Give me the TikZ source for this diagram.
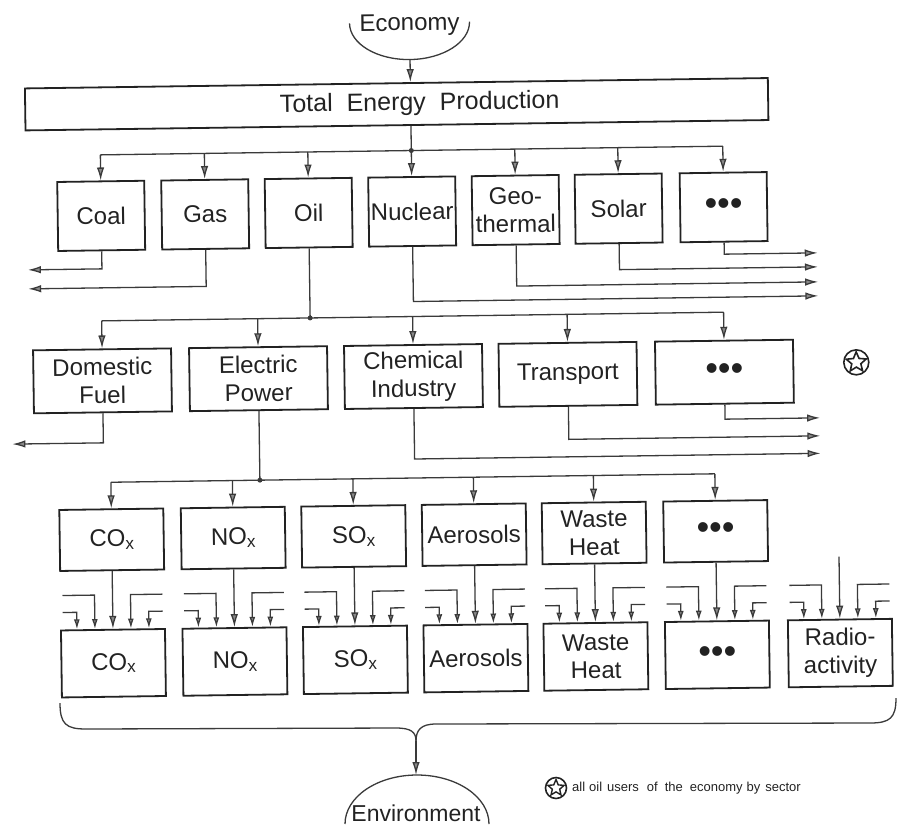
\documentclass[tikz,border=0pt]{standalone}
\usepackage{fontspec}
\setmainfont{Liberation Sans}
\usetikzlibrary{arrows.meta,shapes.geometric}

\definecolor{ink}{HTML}{222222}
\definecolor{linecol}{HTML}{3A3A3A}
\definecolor{tipcol}{HTML}{8A8A8A}

% lowered index letter, as in CO_x
\newcommand\lowidx[1]{\raisebox{-3pt}{\fontsize{17}{17}\selectfont #1}}

\begin{document}
\begin{tikzpicture}[x=1pt,y=-1pt,
  every node/.style={text=ink},
  lbl/.style={font=\fontsize{24}{28}\selectfont, align=center},
  box/.style={lbl, draw=ink, line width=1.8pt, inner sep=0pt},
  srcbox/.style={box, minimum width=87pt, minimum height=69pt},
  userbox/.style={box, minimum width=138pt, minimum height=63pt},
  emitbox/.style={box, minimum width=104pt, minimum height=61pt},
  loadbox/.style={box, minimum width=104pt, minimum height=67pt},
  dotsfont/.style={font=\fontsize{36}{36}\selectfont},
  wire/.style={draw=linecol, line width=1.3pt},
  flow/.style={wire, -{Latex[length=13pt,width=7.5pt,fill=tipcol]}},
  feed/.style={wire, -{Latex[length=10pt,width=6pt,fill=tipcol]}},
  junction/.style={circle, fill=linecol, inner sep=0pt, minimum size=5pt},
  ring/.style={circle, draw=ink, line width=1.6pt, inner sep=0pt},
  starmark/.style={star, star points=5, star point ratio=2.2, draw=ink, line width=1.6pt, inner sep=0pt}
]
\useasboundingbox (0,0) rectangle (904,831);

\begin{scope}[transform canvas={rotate around={0.8:(450,415)}}]
% ---------------- economy and total production
\node[lbl, anchor=base] (econ) at (415,30) {Economy};
\draw[wire] (355,22) arc[start angle=180, end angle=360, x radius=60pt, y radius=37pt];
\coordinate (econ-out) at (415,59);

\node[box, minimum width=743pt, minimum height=42pt] (tep) at (401,103.5) {};
\node[lbl, font=\fontsize{25}{28}\selectfont] (tep-text) at (424,103.5)
  {Total\hspace{14pt}Energy\hspace{14pt}Production};
\draw[flow] (econ-out) -- (econ-out |- tep.north);

% ---------------- energy sources
\node[srcbox] (coal)    at (104,211)   {Coal};
\node[srcbox] (gas)     at (208,211)   {Gas};
\node[srcbox] (oil)     at (311.5,211) {Oil};
\node[srcbox] (nuclear) at (415,211)   {Nuclear};
\node[srcbox] (geo)     at (518.5,211) {Geo-\\thermal};
\node[srcbox] (solar)   at (621.5,211) {Solar};
\node[srcbox, dotsfont] (dots1) at (726.5,211) {•••};

\coordinate (bus1) at (415,150);
\draw[wire] (bus1 |- tep.south) -- (bus1);
\draw[wire] (coal.north |- bus1) -- (dots1.north |- bus1);
\node[junction] at (bus1) {};
\foreach \n in {coal,gas,oil,nuclear,geo,solar,dots1}
  \draw[flow] (\n.north |- bus1) -- (\n.north);

\coordinate (w1) at (30,264);
\coordinate (w2) at (30,283);
\coordinate (e1) at (820,258);
\coordinate (e2) at (820,272);
\coordinate (e3) at (820,287);
\coordinate (e4) at (820,301);
\draw[flow] (coal.south) |- (w1);
\draw[flow] (gas.south) |- (w2);
\draw[flow] (dots1.south) |- (e1);
\draw[flow] (solar.south) |- (e2);
\draw[flow] (geo.south) |- (e3);
\draw[flow] (nuclear.south) |- (e4);

% ---------------- oil users
\node[userbox] (domestic) at (103,376)   {Domestic\\Fuel};
\node[userbox] (electric) at (259,376)   {Electric\\Power};
\node[userbox] (chemical) at (414,376)   {Chemical\\Industry};
\node[userbox] (transport) at (568.5,376) {Transport};
\node[userbox, dotsfont] (dots2) at (725,376) {•••};

\node[ring, minimum size=25pt] (allusers) at (857,368) {};
\node[starmark, minimum size=21pt] at (allusers) {};

\coordinate (bus2) at (311.5,316);
\draw[wire] (oil.south) -- (bus2);
\draw[wire] (domestic.north |- bus2) -- (dots2.north |- bus2);
\node[junction] at (bus2) {};
\foreach \n in {domestic,electric,chemical,transport,dots2}
  \draw[flow] (\n.north |- bus2) -- (\n.north);

\coordinate (w3) at (12,438);
\coordinate (e5) at (820,423);
\coordinate (e6) at (820,441);
\coordinate (e7) at (820,458.5);
\draw[flow] (domestic.south) |- (w3);
\draw[flow] (dots2.south) |- (e5);
\draw[flow] (transport.south) |- (e6);
\draw[flow] (chemical.south) |- (e7);

% ---------------- emissions of electric power
\node[emitbox] (co)   at (110,535)   {CO\lowidx{x}};
\node[emitbox] (no)   at (231.5,535) {NO\lowidx{x}};
\node[emitbox] (so)   at (352,535)   {SO\lowidx{x}};
\node[emitbox] (aer)  at (472.5,535) {Aerosols};
\node[emitbox] (heat) at (592.5,535) {Waste\\Heat};
\node[emitbox, dotsfont] (dots3) at (714,535) {•••};

\coordinate (bus3) at (259,477.5);
\draw[wire] (electric.south) -- (bus3);
\draw[wire] (co.north |- bus3) -- (dots3.north |- bus3);
\node[junction] at (bus3) {};
\foreach \n in {co,no,so,aer,heat,dots3}
  \draw[flow] (\n.north |- bus3) -- (\n.north);

% ---------------- total loads
\node[loadbox] (co-all)   at (110,658.5)   {CO\lowidx{x}};
\node[loadbox] (no-all)   at (231.5,658.5) {NO\lowidx{x}};
\node[loadbox] (so-all)   at (352,658.5)   {SO\lowidx{x}};
\node[loadbox] (aer-all)  at (472.5,658.5) {Aerosols};
\node[loadbox] (heat-all) at (592.5,658.5) {Waste\\Heat};
\node[loadbox, dotsfont] (dots4) at (714,658.5) {•••};
\node[loadbox] (radio)    at (837,658.5)   {Radio-\\activity};

\foreach \a/\b in {co/co-all,no/no-all,so/so-all,aer/aer-all,heat/heat-all,dots3/dots4}
  \draw[flow] (\a.south) -- (\b.north);
\coordinate (radio-in) at (837,562);
\draw[flow] (radio-in) -- (radio.north);

% contributions from the other sectors
\foreach \b in {co-all,no-all,so-all,aer-all,heat-all,dots4,radio} {
  \draw[feed] ([xshift=-50pt,yshift=17pt]\b.north) -| ([xshift=-36pt]\b.north);
  \draw[feed] ([xshift=-50pt,yshift=34pt]\b.north) -| ([xshift=-18pt]\b.north);
  \draw[feed] ([xshift=50pt,yshift=34pt]\b.north) -| ([xshift=18pt]\b.north);
  \draw[feed] ([xshift=50pt,yshift=17pt]\b.north) -| ([xshift=36pt]\b.north);
}
\end{scope}

% ---------------- collecting brace and environment
\coordinate (brace-tip) at (416,741);
\draw[wire] (60,703) .. controls (60,724) and (66,729) .. (86,729)
  -- (396,728) .. controls (411,728) and (416,732) .. (brace-tip);
\draw[wire] (brace-tip) .. controls (416,730) and (421,724) .. (436,724)
  -- (870,723) .. controls (890,723) and (896,718) .. (896,698);

\node[lbl, font=\fontsize{23}{26}\selectfont, anchor=base] (env) at (416,821) {Environment};
\draw[wire] (345,824) arc[start angle=180, end angle=0, x radius=72pt, y radius=49pt];
\coordinate (env-in) at (416,775);
\draw[flow] (brace-tip) -- (env-in);

% ---------------- key
\node[ring, minimum size=21pt] (key) at (556,788) {};
\node[starmark, minimum size=17pt, line width=1.4pt] at (key) {};
\node[anchor=west, font=\fontsize{13}{15}\selectfont, inner sep=0pt] (key-text) at (572,788)
  {all\hspace{4pt}oil\hspace{5pt}users\hspace{8pt}of\hspace{7pt}the\hspace{7pt}economy\hspace{4pt}by\hspace{5pt}sector};
\end{tikzpicture}
\end{document}
